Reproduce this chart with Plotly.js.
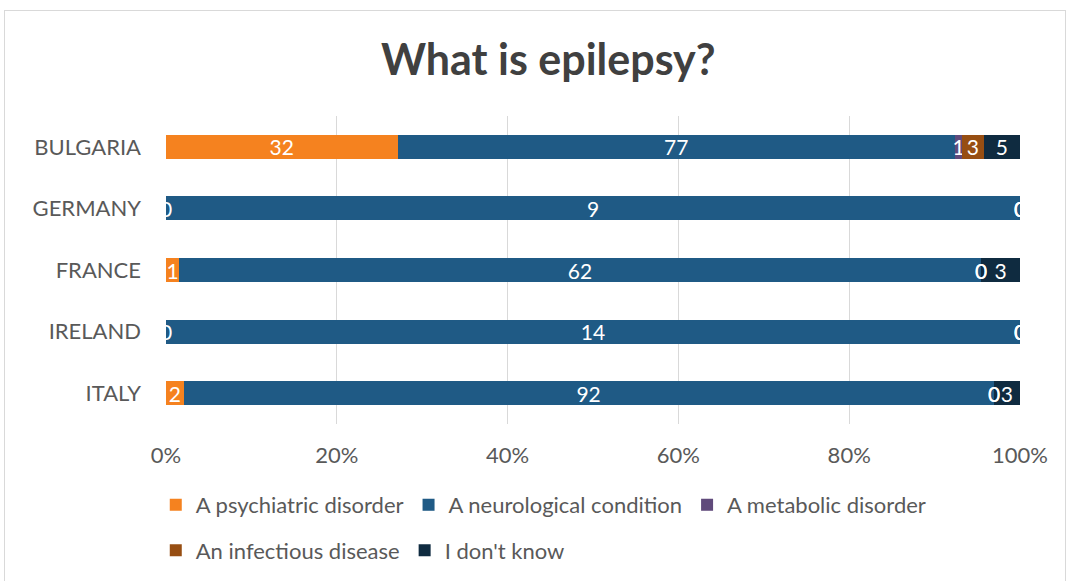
<!DOCTYPE html>
<html>
<head>
<meta charset="utf-8">
<script src="https://cdn.plot.ly/plotly-3.0.1.min.js"></script>
<style>
  html, body { margin: 0; padding: 0; background: #fff; }
  #frame { position: absolute; left: 4px; top: 10px; width: 1062px; height: 574px; border: 1px solid #d9d9d9; box-sizing: border-box; }
  #chart { position: absolute; left: 0; top: 0; width: 1075px; height: 581px; }
</style>
</head>
<body>
<div id="frame"></div>
<div id="chart"></div>
<script>
// Survey answers per country (counts of respondents)
const countries = ["BULGARIA", "GERMANY", "FRANCE", "IRELAND", "ITALY"];
const psychiatric = [32, 0, 1, 0, 2];
const neurological = [77, 9, 62, 14, 92];
const metabolic = [1, 0, 0, 0, 0];
const infectious = [3, 0, 0, 0, 0];
const dontKnow = [5, 0, 3, 0, 3];

const percentTicks = [0, 20, 40, 60, 80, 100];
const percentTickText = ["0%", "20%", "40%", "60%", "80%", "100%"];

const seriesNames = ["A psychiatric disorder", "A neurological condition", "A metabolic disorder",
                     "An infectious disease", "I don't know"];
const seriesValues = [psychiatric, neurological, metabolic, infectious, dontKnow];
const seriesColors = ["#f5821f", "#1f5a85", "#604a7b", "#974e12", "#0f2b40"];
const legendIds = ["legend", "legend", "legend", "legend2", "legend2"];

const FONT = "Lato, 'Open Sans', sans-serif";
const GREY = "#595959";
const LABEL_SIZE = 21;

const traces = seriesValues.map((vals, i) => ({
  type: "bar",
  orientation: "h",
  name: seriesNames[i],
  y: countries,
  x: vals,
  text: vals.map(v => (v > 0 ? String(v) : "")),
  texttemplate: "%{text}",
  textposition: "inside",
  insidetextanchor: "middle",
  textangle: 0,
  constraintext: "none",
  cliponaxis: true,
  textfont: { family: FONT, size: LABEL_SIZE, color: "#ffffff" },
  marker: { color: seriesColors[i], line: { width: 0 } },
  legend: legendIds[i],
  hoverinfo: "skip"
}));

// Zero-count labels sit at the stacked (percent) position where the empty segment would be
const totals = countries.map((_, c) => seriesValues.reduce((s, v) => s + v[c], 0));
const zeroLabels = [];
seriesValues.forEach((vals, i) => {
  vals.forEach((v, c) => {
    if (v !== 0) return;
    let before = 0;
    for (let k = 0; k < i; k++) before += seriesValues[k][c];
    zeroLabels.push({
      x: before / totals[c] * 100,
      y: countries[c],
      xref: "x", yref: "y",
      text: "0",
      showarrow: false,
      xanchor: "center", yanchor: "middle",
      font: { family: FONT, size: LABEL_SIZE, color: "#ffffff" }
    });
  });
});

const legendBase = {
  orientation: "h",
  traceorder: "normal",
  xref: "container",
  x: 0.1449, xanchor: "left",
  yref: "container",
  yanchor: "top",
  font: { family: FONT, size: 22, color: GREY },
  itemwidth: 30,
  bgcolor: "rgba(0,0,0,0)"
};

const layout = {
  width: 1075,
  height: 581,
  paper_bgcolor: "rgba(0,0,0,0)",
  plot_bgcolor: "rgba(0,0,0,0)",
  margin: { l: 166, r: 55, t: 116, b: 157, autoexpand: false },
  barmode: "stack",
  barnorm: "percent",
  bargap: 0.61,
  showlegend: true,
  font: { family: FONT, color: GREY },
  title: {
    text: "<b>What is epilepsy?</b>",
    font: { family: FONT, size: 43, color: "#404040" },
    x: 0.51, xanchor: "center",
    y: 1 - 60 / 581, yref: "container", yanchor: "middle"
  },
  xaxis: {
    range: [0, 100],
    tickmode: "array",
    tickvals: percentTicks,
    ticktext: percentTickText,
    showgrid: true,
    gridcolor: "#d9d9d9",
    gridwidth: 1,
    zeroline: false,
    showline: false,
    ticks: "",
    ticklabelstandoff: 16,
    tickfont: { family: FONT, size: 22, color: GREY },
    fixedrange: true
  },
  yaxis: {
    categoryorder: "array",
    categoryarray: countries,
    autorange: "reversed",
    showgrid: false,
    zeroline: false,
    showline: false,
    ticks: "",
    ticklabelstandoff: 24,
    tickfont: { family: FONT, size: 22, color: GREY },
    fixedrange: true
  },
  annotations: zeroLabels,
  legend: Object.assign({}, legendBase, { y: 0.167 }),
  legend2: Object.assign({}, legendBase, { y: 0.0886 })
};

Plotly.newPlot("chart", traces, layout, { displayModeBar: false, staticPlot: true });
</script>
</body>
</html>
